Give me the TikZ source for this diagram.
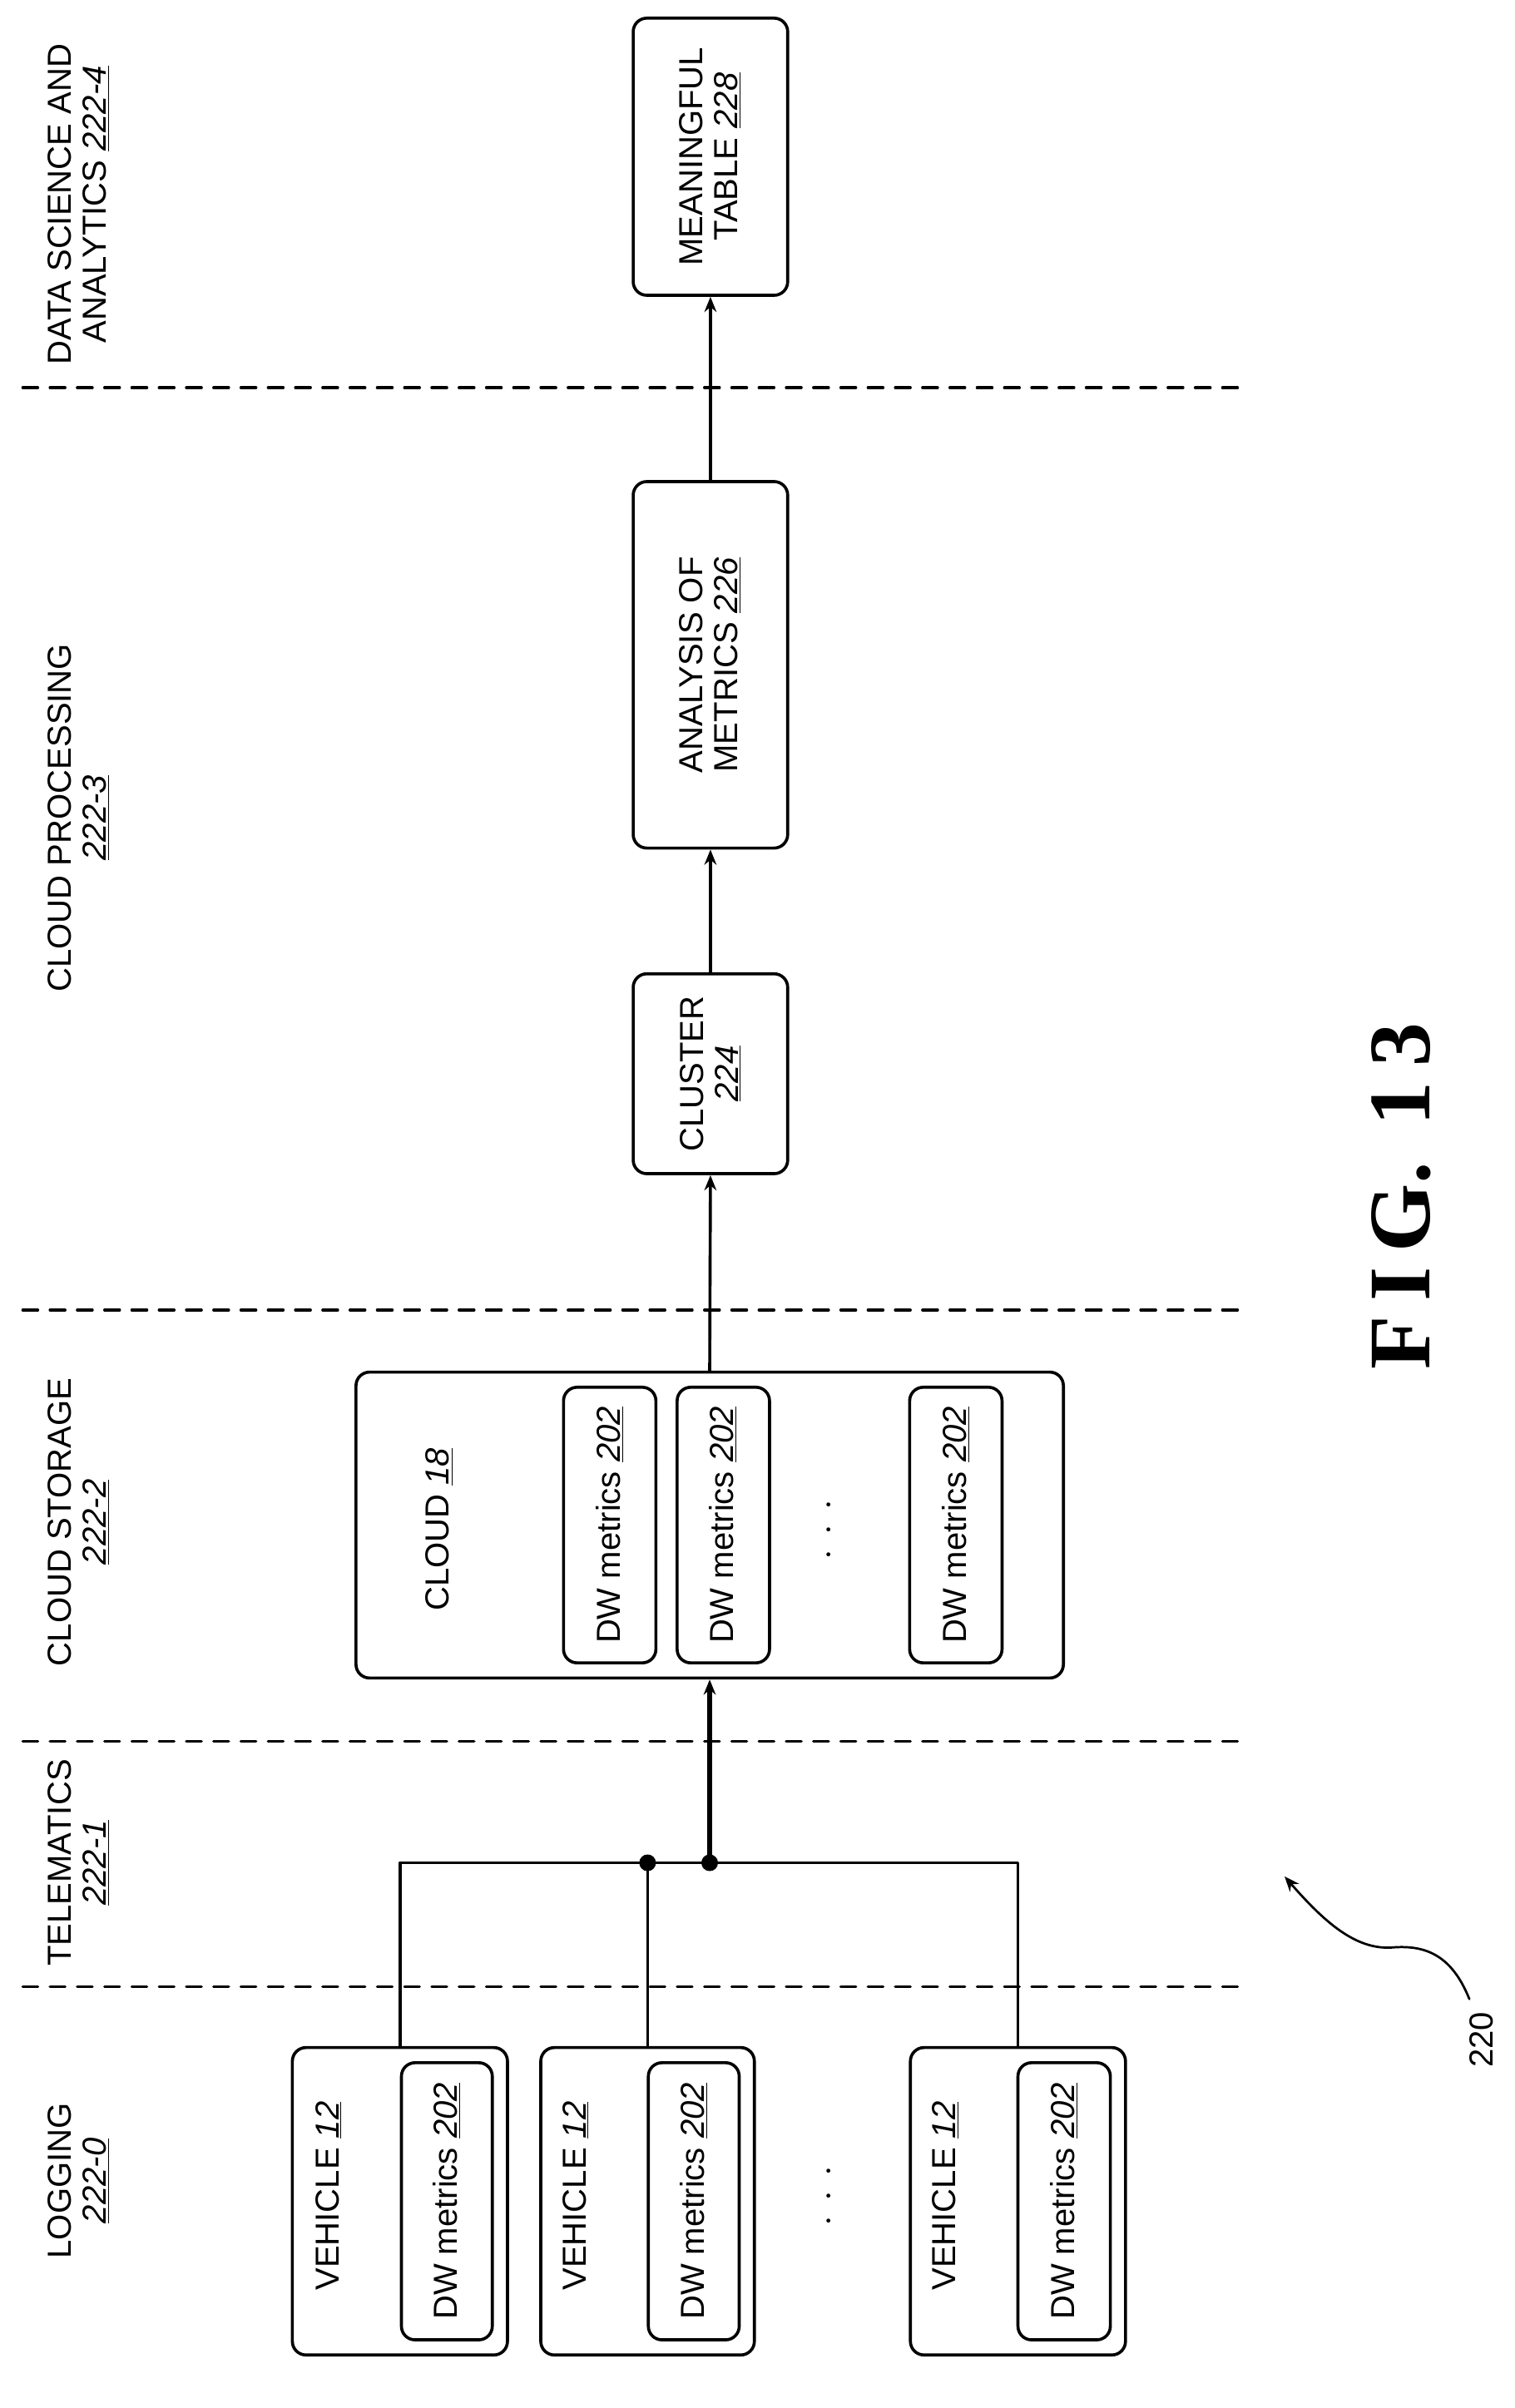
\documentclass[tikz,border=0pt]{standalone}
\usepackage{fontspec}
\setmainfont{Liberation Sans}
\newfontfamily\figfont{Liberation Serif}
\usetikzlibrary{arrows.meta}

\newcommand{\refn}[1]{\underline{\textit{#1}}}

\begin{document}
\begin{tikzpicture}[x=1pt,y=1pt,line cap=round,line join=round,>={Stealth[length=10pt,width=8pt]},
  every node/.style={font=\fontsize{22}{23}\selectfont},
  box/.style={draw,line width=2pt,rounded corners=9pt,rotate=90,inner sep=0pt},
  lbl/.style={rotate=90,align=center},
  sep/.style={line width=1.8pt,dash pattern=on 10pt off 8pt},
  flow/.style={->,line width=2pt}]
\useasboundingbox (0,0) rectangle (1000,1590);
% stage separators
\draw[sep] (15,1334) -- (820,1334);
\draw[sep] (15,725) -- (820,725);
\draw[sep] (15,440) -- (820,440);
\draw[sep] (15,278) -- (820,278);
% stage labels
\node[lbl] (dsa) at (52,1455) {DATA SCIENCE AND\\ANALYTICS \refn{222-4}};
\node[lbl] (cproc) at (52,1050) {CLOUD PROCESSING\\\refn{222-3}};
\node[lbl] (cstor) at (52,585) {CLOUD STORAGE\\\refn{222-2}};
\node[lbl] (tele) at (52,360) {TELEMATICS\\\refn{222-1}};
\node[lbl] (logg) at (52,150) {LOGGING\\\refn{222-0}};
% processing chain
\node[box,minimum width=183pt,minimum height=102pt,align=center] (table) at (469,1486.5) {MEANINGFUL\\TABLE \refn{228}};
\node[box,minimum width=242pt,minimum height=102pt,align=center] (analysis) at (469,1151) {ANALYSIS OF\\METRICS \refn{226}};
\node[box,minimum width=132pt,minimum height=102pt,align=center] (cluster) at (469,881) {CLUSTER\\\refn{224}};
% cloud
\node[box,minimum width=202pt,minimum height=467pt] (cloud) at (468.5,583) {};
\node[lbl] (cloudtxt) at (290,580) {CLOUD \refn{18}};
\node[box,minimum width=182pt,minimum height=61pt] (cm1) at (402.5,583) {DW metrics \refn{202}};
\node[box,minimum width=182pt,minimum height=61pt] (cm2) at (477.5,583) {DW metrics \refn{202}};
\node[box,minimum width=182pt,minimum height=61pt] (cm3) at (631,583) {DW metrics \refn{202}};
\node[lbl,font=\fontsize{34}{34}\selectfont] (cdots) at (548,580) {$\cdot\,\cdot\,\cdot$};
% vehicles
\node[box,minimum width=203pt,minimum height=142pt] (v1) at (264,136.5) {};
\node[box,minimum width=203pt,minimum height=141pt] (v2) at (427.5,136.5) {};
\node[box,minimum width=203pt,minimum height=142pt] (v3) at (672,136.5) {};
\node[lbl] (v1txt) at (217,140) {VEHICLE \refn{12}};
\node[lbl] (v2txt) at (380,140) {VEHICLE \refn{12}};
\node[lbl] (v3txt) at (624,140) {VEHICLE \refn{12}};
\node[box,minimum width=183pt,minimum height=60pt] (vm1) at (295,136.5) {DW metrics \refn{202}};
\node[box,minimum width=183pt,minimum height=60pt] (vm2) at (458,136.5) {DW metrics \refn{202}};
\node[box,minimum width=183pt,minimum height=61pt] (vm3) at (702.5,136.5) {DW metrics \refn{202}};
\node[lbl,font=\fontsize{34}{34}\selectfont] (vdots) at (548,140) {$\cdot\,\cdot\,\cdot$};
% bus
\coordinate (bl) at (264,360);
\coordinate (br) at (672,360);
\coordinate (j1) at (427.5,360);
\coordinate (j2) at (468.5,360);
\draw[line width=2pt] (v1.east) -- (bl) -- (br) -- (v3.east);
\draw[line width=2pt] (v2.east) -- (j1);
\fill (j1) circle (5.5pt);
\fill (j2) circle (5.5pt);
\draw[flow,line width=3pt] (j2) -- (cloud.west);
\draw[flow] (cloud.east) -- (cluster.west);
\draw[flow] (cluster.east) -- (analysis.west);
\draw[flow] (analysis.east) -- (table.west);
% figure reference
\coordinate (reftail) at (970,270);
\coordinate (refhead) at (848,351);
\draw[->,line width=1.5pt] (reftail) .. controls (958,300) and (940,306) .. (918,304) .. controls (895,303) and (875,320) .. (refhead);
\node[rotate=90] (refnum) at (978,243) {220};
\node[rotate=90,font=\figfont\bfseries\fontsize{58}{60}\selectfont] (fig) at (925,800) {F\,I\,G.\ \,1\,3};
\end{tikzpicture}
\end{document}
